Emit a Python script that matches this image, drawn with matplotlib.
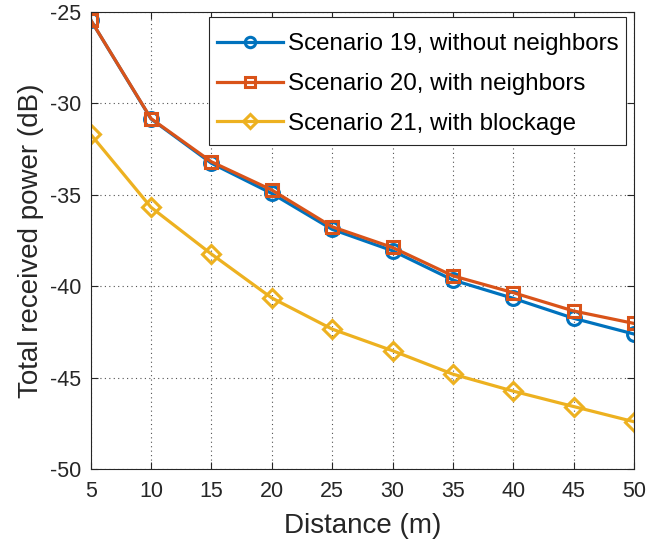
import matplotlib
matplotlib.use("Agg")
import matplotlib.pyplot as plt
from matplotlib.path import Path

distance = [5, 10, 15, 20, 25, 30, 35, 40, 45, 50]
scenario19 = [-25.45, -30.86, -33.28, -34.93, -36.89, -38.06, -39.66, -40.66, -41.75, -42.61]
scenario20 = [-25.45, -30.84, -33.20, -34.74, -36.75, -37.88, -39.43, -40.35, -41.35, -42.03]
scenario21 = [-31.70, -35.69, -38.24, -40.64, -42.34, -43.52, -44.80, -45.73, -46.57, -47.40]
labels = ["Scenario 19, without neighbors", "Scenario 20, with neighbors", "Scenario 21, with blockage"]
xticks = [5, 10, 15, 20, 25, 30, 35, 40, 45, 50]
yticks = [-50, -45, -40, -35, -30, -25]

plt.rcParams['font.family'] = ['Liberation Sans', 'DejaVu Sans']


class VPadSquare:
    """Square box that is padded only vertically (top / bottom separately)."""
    def __init__(self, top, bottom):
        self.top = top
        self.bottom = bottom

    def __call__(self, x0, y0, width, height, mutation_size):
        x1 = x0 + width
        ya = y0 - self.bottom * mutation_size
        yb = y0 + height + self.top * mutation_size
        return Path([(x0, ya), (x1, ya), (x1, yb), (x0, yb), (x0, ya)], closed=True)


fig = plt.figure(figsize=(6.59, 5.43), dpi=100)
ax = fig.add_axes([0.1376, 0.1357, 0.8244, 0.8428])

lw = 2.3
ax.plot(distance, scenario19, color='#0072BD', marker='o', markersize=10, markerfacecolor='none',
        markeredgewidth=2.2, linewidth=lw, label=labels[0])
ax.plot(distance, scenario20, color='#D95319', marker='s', markersize=9, markerfacecolor='none',
        markeredgewidth=2.2, linewidth=lw, label=labels[1])
ax.plot(distance, scenario21, color='#EDB120', marker='D', markersize=9, markerfacecolor='none',
        markeredgewidth=2.2, linewidth=lw, label=labels[2])

ax.set_xlim(5, 50)
ax.set_ylim(-50, -25)
ax.set_xticks(xticks)
ax.set_yticks(yticks)
ax.set_yticklabels([str(v) for v in yticks])
ax.tick_params(direction='in', top=True, right=True, labelsize=15.5, length=5, width=0.8,
               colors='#262626')
ax.tick_params(axis='x', pad=8.5)
ax.tick_params(axis='y', pad=7)
ax.grid(True, linestyle=(0, (1, 3)), color='#262626', linewidth=0.8, alpha=0.8)
for s in ax.spines.values():
    s.set_color('#262626')
    s.set_linewidth(0.8)

ax.set_xlabel('Distance (m)', fontsize=20, color='#262626', labelpad=8)
ax.set_ylabel('Total received power (dB)', fontsize=20, color='#262626', labelpad=4)

leg = ax.legend(loc='upper right', fontsize=17.4, frameon=True, fancybox=False, edgecolor='#262626',
                handlelength=2.75, borderaxespad=0.0, borderpad=0.3, labelspacing=0.74,
                handletextpad=0.2, markerscale=0.75,
                bbox_to_anchor=(0.985, 0.969), bbox_transform=ax.transAxes)
leg.get_frame().set_boxstyle(VPadSquare(0.38, 0.12))
leg.get_frame().set_linewidth(0.8)
leg.get_frame().set_alpha(1)

fig.savefig('out.png', dpi=100)
